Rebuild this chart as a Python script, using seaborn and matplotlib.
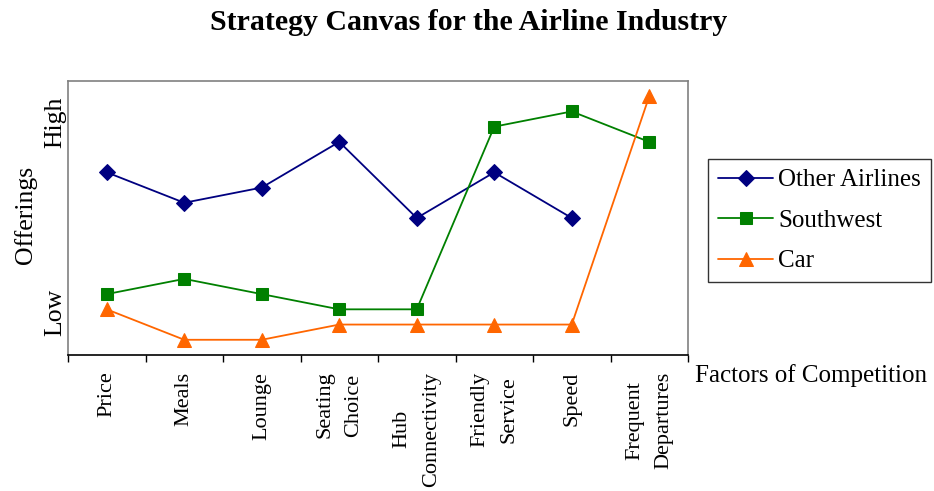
import matplotlib
matplotlib.use("Agg")
import matplotlib.pyplot as plt
import seaborn as sns
import pandas as pd
import numpy as np

categories = ["Price", "Meals", "Lounge", "Seating\nChoice", "Hub\nConnectivity",
              "Friendly\nService", "Speed", "Frequent\nDepartures"]
other_airlines = [12, 10, 11, 14, 9, 12, 9, np.nan]
southwest = [4, 5, 4, 3, 3, 15, 16, 14]
car = [3, 1, 1, 2, 2, 2, 2, 17]
series_names = ["Other Airlines", "Southwest", "Car"]
y_tick_labels = ["Low", "High"]

sns.set_theme(style="white")
plt.rcParams["font.family"] = ["Liberation Serif", "DejaVu Serif"]
plt.rcParams["text.color"] = "black"
plt.rcParams["xtick.color"] = "black"
plt.rcParams["ytick.color"] = "black"
plt.rcParams["axes.labelcolor"] = "black"

rows = []
for name, vals in zip(series_names, [other_airlines, southwest, car]):
    for i, (c, v) in enumerate(zip(categories, vals)):
        if not np.isnan(v):
            rows.append({"Factor": c, "pos": i, "Offering": v, "Series": name})
df = pd.DataFrame(rows)

palette = {"Other Airlines": "#000080", "Southwest": "#008000", "Car": "#FF6600"}
markers = {"Other Airlines": "D", "Southwest": "s", "Car": "^"}
msizes = {"Other Airlines": 8, "Southwest": 8, "Car": 10}

fig = plt.figure(figsize=(9.34, 4.91), dpi=100)
ax = fig.add_axes([68/934, 1-355/491, 620/934, 274/491])

for name in series_names:
    sub = df[df["Series"] == name]
    sns.lineplot(data=sub, x="pos", y="Offering", color=palette[name],
                 marker=markers[name], markersize=msizes[name],
                 markeredgecolor=palette[name], linewidth=1.3,
                 label=name, ax=ax, sort=False, estimator=None)

ax.set_xlim(-0.5, len(categories) - 0.5)
ax.set_ylim(0, 18)

ax.set_xticks(range(len(categories)))
ax.set_xticklabels(categories, rotation=90, va="top", ha="center",
                   multialignment="center", fontsize=16, linespacing=1.7,
                   color="black")
ax.set_xticks(np.arange(-0.5, len(categories), 1.0), minor=True)
ax.tick_params(axis="x", which="major", length=0, pad=12)
ax.tick_params(axis="x", which="minor", length=5, width=1, color="black",
               direction="out", bottom=True)

ax.set_yticks([2.8, 15.3])
ax.set_yticklabels(y_tick_labels, rotation=90, va="center", fontsize=18.5,
                   color="black")
ax.tick_params(axis="y", length=0, pad=1)

ax.set_xlabel("")
ax.set_ylabel("Offerings", fontsize=18.5, color="black")
ax.yaxis.set_label_coords(-0.05, 0.51)

for s in ["left", "top", "right"]:
    ax.spines[s].set_color("#808080")
    ax.spines[s].set_linewidth(1.2)
ax.spines["bottom"].set_color("black")
ax.spines["bottom"].set_linewidth(1.2)

fig.text(695/934, 1-376/491, "Factors of Competition", fontsize=18,
         ha="left", va="center", color="black")
fig.text(469/934, 1-23/491, "Strategy Canvas for the Airline Industry",
         fontsize=21.5, fontweight="bold", ha="center", va="center",
         color="black")

handles, labels = ax.get_legend_handles_labels()
leg = ax.legend(handles, labels, loc="upper left",
                bbox_to_anchor=(708/934, 1-159/491), bbox_transform=fig.transFigure,
                fontsize=18, frameon=True, fancybox=False, shadow=False,
                handlelength=2.2, labelspacing=0.72, borderpad=0.4,
                handletextpad=0.2, borderaxespad=0)
leg.get_frame().set_edgecolor("black")
leg.get_frame().set_linewidth(1.0)
for t in leg.get_texts():
    t.set_color("black")

fig.savefig("out.png", dpi=100)
